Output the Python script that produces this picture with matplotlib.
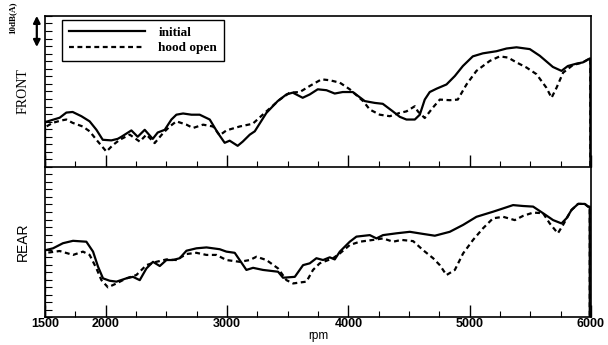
import matplotlib
matplotlib.use("Agg")
import matplotlib.pyplot as plt
import numpy as np

# rpm / level (dB, relative)
front_initial_rpm = [1500, 1500, 1514, 1621, 1676, 1728, 1800, 1868, 1924, 1976, 2047, 2099, 2130,
                     2212, 2264, 2322, 2388, 2429, 2487, 2542, 2583, 2638, 2707, 2775, 2858, 2924,
                     2981, 3022, 3088, 3130, 3188, 3229, 3325, 3418, 3490, 3542, 3624, 3682, 3748,
                     3820, 3888, 3954, 4037, 4136, 4218, 4284, 4367, 4424, 4479, 4548, 4589, 4630,
                     4671, 4727, 4809, 4878, 4944, 5026, 5109, 5221, 5304, 5386, 5496, 5578, 5686,
                     5757, 5809, 5881, 5933, 5990, 5995, 5995]
front_initial_db = [0, 15.0, 15.0, 16.3, 18.0, 18.2, 16.8, 15.1, 12.3, 9.0, 8.8, 9.3, 10.0,
                    12.1, 10.0, 12.3, 9.3, 11.4, 12.3, 15.7, 17.3, 17.7, 17.3, 17.3, 15.7, 11.3,
                    8.0, 8.7, 7.0, 8.4, 10.7, 11.8, 17.9, 21.8, 24.0, 24.6, 22.9, 24.0, 25.7,
                    25.4, 24.3, 24.8, 24.8, 21.8, 21.2, 20.9, 18.4, 16.6, 15.7, 15.7, 17.3, 22.3,
                    24.8, 25.9, 27.3, 30.1, 33.4, 36.6, 37.6, 38.3, 39.2, 39.6, 39.0, 36.8, 33.1,
                    31.8, 33.4, 34.2, 34.6, 35.9, 35.9, 0]

front_hood_rpm = [1500, 1500, 1512, 1563, 1635, 1676, 1728, 1811, 1868, 1924, 2006, 2061, 2116,
                  2198, 2281, 2336, 2404, 2473, 2528, 2583, 2666, 2720, 2803, 2885, 2940, 2995,
                  3105, 3212, 3325, 3435, 3517, 3600, 3682, 3779, 3847, 3930, 4012, 4122, 4177,
                  4259, 4342, 4424, 4479, 4548, 4573, 4630, 4696, 4754, 4836, 4902, 4974, 5056,
                  5166, 5248, 5317, 5386, 5469, 5551, 5633, 5675, 5716, 5770, 5850, 5933, 5990,
                  5995, 5995]
front_hood_db = [0, 13.4, 13.4, 14.6, 15.4, 15.7, 14.6, 13.4, 11.8, 9.0, 5.1, 7.3, 9.0,
                 10.7, 8.4, 10.7, 7.9, 11.2, 13.4, 15.1, 14.0, 12.9, 14.0, 13.4, 10.5, 12.1,
                 13.4, 14.3, 18.4, 22.3, 24.6, 24.8, 26.8, 29.0, 28.7, 27.9, 25.7, 21.8, 19.0,
                 17.3, 16.8, 17.9, 18.4, 20.1, 18.4, 16.2, 19.6, 22.3, 22.1, 22.3, 27.3, 31.8,
                 35.1, 36.6, 36.2, 34.6, 32.9, 30.7, 26.2, 22.9, 26.2, 31.2, 33.7, 34.6, 35.9,
                 35.9, 0]

rear_initial_rpm = [1500, 1500, 1506, 1566, 1648, 1731, 1841, 1896, 1937, 1978, 2033, 2089, 2171,
                    2225, 2281, 2336, 2390, 2446, 2501, 2555, 2610, 2666, 2748, 2831, 2940, 2995,
                    3064, 3160, 3215, 3297, 3421, 3462, 3559, 3627, 3682, 3737, 3792, 3847, 3888,
                    3930, 4012, 4067, 4177, 4232, 4286, 4397, 4507, 4616, 4713, 4836, 4946, 5056,
                    5193, 5276, 5358, 5440, 5523, 5605, 5688, 5757, 5798, 5840, 5894, 5949, 5976,
                    5990, 5990]
rear_initial_db = [0, 22.3, 22.3, 22.9, 24.6, 25.4, 25.1, 21.8, 16.8, 12.9, 12.1, 11.8, 12.9,
                   13.4, 12.3, 16.2, 18.4, 17.0, 19.0, 19.0, 19.6, 22.1, 22.9, 23.2, 22.6, 21.8,
                   21.4, 15.7, 16.4, 15.7, 15.1, 13.1, 13.4, 17.3, 17.9, 19.6, 19.0, 19.9, 19.2,
                   21.8, 25.1, 26.8, 27.3, 26.2, 27.3, 27.9, 28.4, 27.7, 27.1, 28.4, 30.7, 33.4,
                   35.1, 36.2, 37.3, 37.0, 36.8, 34.6, 32.3, 31.2, 32.9, 35.7, 37.7, 37.7, 36.8,
                   36.8, 0]

rear_hood_rpm = [1500, 1500, 1512, 1621, 1731, 1813, 1868, 1924, 1965, 2019, 2089, 2171, 2253,
                 2336, 2418, 2501, 2583, 2666, 2748, 2831, 2913, 2995, 3105, 3188, 3243, 3325,
                 3421, 3490, 3545, 3655, 3709, 3764, 3874, 3930, 4012, 4094, 4204, 4286, 4369,
                 4438, 4534, 4616, 4699, 4754, 4809, 4878, 4946, 5028, 5111, 5193, 5276, 5372,
                 5440, 5523, 5605, 5660, 5727, 5770, 5840, 5894, 5949, 5976, 5990, 5990]
rear_hood_db = [0, 21.4, 21.4, 22.0, 20.7, 21.8, 20.7, 16.2, 12.3, 9.9, 11.2, 12.9, 14.0,
                17.3, 18.4, 19.2, 19.0, 21.0, 21.4, 20.7, 20.7, 19.0, 18.4, 19.0, 20.1, 19.0,
                16.2, 12.3, 11.2, 11.8, 15.7, 17.9, 19.6, 21.2, 24.0, 25.1, 25.7, 26.2, 25.1,
                25.7, 25.3, 22.3, 19.6, 17.3, 14.0, 15.7, 21.2, 25.7, 29.6, 32.9, 33.4, 32.3,
                33.7, 34.8, 34.6, 31.2, 27.9, 30.7, 35.7, 37.7, 37.7, 36.8, 36.8, 0]

tick_rpm = [1500, 2000, 3000, 4000, 5000, 6000]

fig = plt.figure(figsize=(6.08, 3.45), dpi=100)
ax1 = fig.add_axes([0.074, 0.516, 0.898, 0.438])
ax2 = fig.add_axes([0.074, 0.081, 0.898, 0.435])

for ax in (ax1, ax2):
    ax.set_xlim(1500, 6000)
    ax.set_ylim(0, 50)
    ax.set_xticks(tick_rpm)
    ax.set_xticks(np.arange(1500, 6001, 250), minor=True)
    ax.set_yticks(np.arange(0, 50.1, 2.5))
    ax.tick_params(axis="both", which="both", direction="in", color="black")
    ax.tick_params(axis="x", which="major", length=9, width=1)
    ax.tick_params(axis="x", which="minor", length=4, width=0.8)
    ax.tick_params(axis="y", length=5, width=0.8, labelleft=False)
    for s in ax.spines.values():
        s.set_linewidth(1.2)

ax1.tick_params(axis="x", labelbottom=False)
ax1.spines["bottom"].set_visible(False)

ax1.plot(front_initial_rpm, front_initial_db, color="black", lw=1.6, label="initial")
ax1.plot(front_hood_rpm, front_hood_db, color="black", lw=1.6, ls=(0, (2.2, 1.6)), label="hood open")
ax2.plot(rear_initial_rpm, rear_initial_db, color="black", lw=1.6)
ax2.plot(rear_hood_rpm, rear_hood_db, color="black", lw=1.6, ls=(0, (2.2, 1.6)))

ax2.set_xticklabels([str(t) for t in tick_rpm], family="Liberation Sans", fontweight="bold",
                    fontsize=9)
ax2.tick_params(axis="x", pad=1)
ax2.set_xlabel("rpm", family="Liberation Sans", fontsize=8.5, labelpad=0)

leg = ax1.legend(loc="upper left", bbox_to_anchor=(0.031, 0.974), borderaxespad=0,
                 prop={"family": "Liberation Serif", "size": 9.5, "weight": "bold"},
                 handlelength=5.8, handletextpad=1.0, fancybox=False, edgecolor="black",
                 framealpha=1, borderpad=0.5, labelspacing=0.25)
leg.get_frame().set_linewidth(1.0)

ax1.set_ylabel("FRONT", family="Liberation Serif", fontsize=10, labelpad=11)
ax2.set_ylabel("REAR", family="Liberation Sans", fontsize=10, labelpad=11)

# 10 dB scale arrow
ax1.annotate("", xy=(-0.015, 50), xytext=(-0.015, 39.7),
             xycoords=("axes fraction", "data"), textcoords=("axes fraction", "data"),
             arrowprops=dict(arrowstyle="<|-|>", color="black", lw=1.6, mutation_scale=10,
                             shrinkA=0, shrinkB=0), annotation_clip=False)
fig.text(0.021, 0.95, "10dB(A)", rotation=90, family="Liberation Serif", fontsize=6.5,
         fontweight="bold", ha="center", va="center")

fig.savefig("out.png", dpi=100)
